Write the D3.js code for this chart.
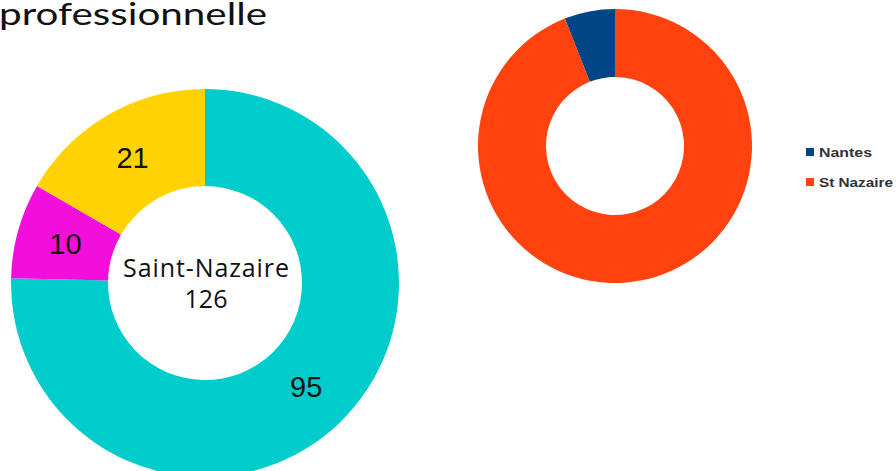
<!DOCTYPE html>
<html>
<head>
<meta charset="utf-8">
<script src="https://cdn.jsdelivr.net/npm/d3@7"></script>
<style>
  html, body { margin: 0; padding: 0; background: #fff; overflow: hidden; }
  svg { display: block; }
</style>
</head>
<body>
<div id="container"></div>
<script>
// left donut: Saint-Nazaire breakdown
var leftCats = ["a", "b", "c"];
var leftValues = [95, 10, 21];
var leftColors = ["#00cccc", "#f20fdc", "#ffd200"];
var leftCenter = ["Saint-Nazaire", "126"];

// right donut: Nantes vs St Nazaire
var rightCats = ["Nantes", "St Nazaire"];
var rightValues = [8, 126];
var rightColors = ["#004586", "#ff420e"];

var titleText = "professionnelle";

var width = 896, height = 471;

var svg = d3.select("#container").append("svg")
  .attr("width", width).attr("height", height);

// title, cut off at the top left like the slide
svg.append("text")
  .attr("x", -1).attr("y", 25)
  .attr("font-family", "Lato, 'Open Sans', sans-serif")
  .attr("font-size", 30)
  .attr("textLength", 268)
  .attr("lengthAdjust", "spacingAndGlyphs")
  .attr("fill", "#111")
  .text(titleText);

// ---- left donut
var lpie = d3.pie().sort(null).value(function(d){ return d; });
var larc = d3.arc().innerRadius(97).outerRadius(194);
var lg = svg.append("g").attr("transform", "translate(205,283)");
var lslices = lpie(leftValues);

lg.selectAll("path").data(lslices).enter().append("path")
  .attr("d", larc)
  .attr("fill", function(d, i){ return leftColors[i]; });

// value labels on the middle of each slice
var labelArc = d3.arc().innerRadius(145).outerRadius(145);
lg.selectAll("text.val").data(lslices).enter().append("text")
  .attr("class", "val")
  .attr("transform", function(d){ return "translate(" + labelArc.centroid(d) + ")"; })
  .attr("text-anchor", "middle")
  .attr("dy", "0.36em")
  .attr("font-family", "'Liberation Sans', Arial, sans-serif")
  .attr("font-size", 29)
  .attr("fill", "#111")
  .text(function(d){ return d.data; });

lg.selectAll("text.center").data(leftCenter).enter().append("text")
  .attr("class", "center")
  .attr("x", 1)
  .attr("y", function(d, i){ return -6 + i * 31; })
  .attr("text-anchor", "middle")
  .attr("font-family", "'Open Sans', 'Noto Sans', sans-serif")
  .attr("font-size", 25)
  .attr("textLength", function(d, i){ return i == 0 ? 166 : null; })
  .attr("fill", "#111")
  .text(function(d){ return d; });

// ---- right donut (slices go counter-clockwise from 12 o'clock)
var rpie = d3.pie().sort(null).startAngle(0).endAngle(-2 * Math.PI);
var rarc = d3.arc().innerRadius(69).outerRadius(137);
var rg = svg.append("g").attr("transform", "translate(615,146)");
rg.selectAll("path").data(rpie(rightValues)).enter().append("path")
  .attr("d", rarc)
  .attr("fill", function(d, i){ return rightColors[i]; });

// legend (the original text is wide and blurry)
var legW = [53, 74];
var leg = svg.append("g").attr("transform", "translate(806,148)");
var items = leg.selectAll("g").data(rightCats).enter().append("g")
  .attr("transform", function(d, i){ return "translate(0," + (i * 30) + ")"; });
items.append("rect")
  .attr("width", 8).attr("height", 8)
  .attr("fill", function(d, i){ return rightColors[i]; });
items.append("text")
  .attr("x", 13).attr("y", 9)
  .attr("font-family", "'Liberation Sans', Arial, sans-serif")
  .attr("font-weight", "bold")
  .attr("font-size", 12)
  .attr("textLength", function(d, i){ return legW[i]; })
  .attr("lengthAdjust", "spacingAndGlyphs")
  .attr("fill", "#333")
  .text(function(d){ return d; });
</script>
</body>
</html>
